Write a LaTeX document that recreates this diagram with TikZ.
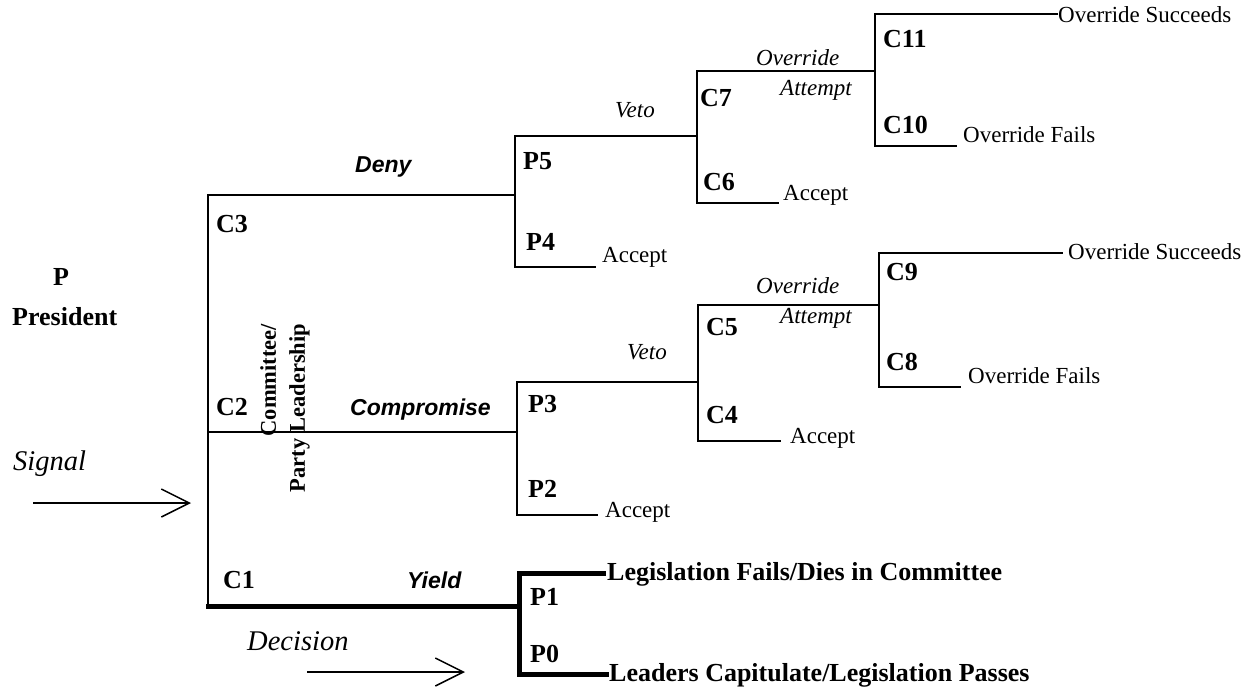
\documentclass[tikz,border=0pt]{standalone}
\usepackage{fontspec}
\setmainfont{Liberation Serif}
\setsansfont{Liberation Sans}
\usetikzlibrary{arrows.meta}
\begin{document}
\begin{tikzpicture}[x=1pt,y=-1pt,
  br/.style={line width=1.7pt, line cap=rect},
  thk/.style={line width=5pt, line cap=rect},
  lbl/.style={font=\fontsize{26}{30}\selectfont\bfseries, anchor=base west, inner sep=0pt},
  itl/.style={font=\fontsize{23}{27}\selectfont\itshape, anchor=base west, inner sep=0pt},
  bigitl/.style={font=\fontsize{28.5}{32}\selectfont\itshape, anchor=base west, inner sep=0pt},
  act/.style={font=\fontsize{23}{27}\selectfont\sffamily\bfseries\itshape, anchor=base west, inner sep=0pt},
  txt/.style={font=\fontsize{23}{27}\selectfont, anchor=base west, inner sep=0pt},
  outc/.style={font=\fontsize{26}{30}\selectfont\bfseries, anchor=base west, inner sep=0pt},
  sig/.style={line width=1.5pt, -{Straight Barb[length=28pt,width=28pt,line width=1.5pt]}}
]
\useasboundingbox (0,0) rectangle (1256,688);

% coordinates of the tree
\coordinate (t3) at (208,195);
\coordinate (t2) at (208,432);
\coordinate (t1) at (208,606);
% Deny subtree
\coordinate (j5) at (515,195);
\coordinate (p5) at (515,136);
\coordinate (p4) at (515,267);
\coordinate (p4e) at (595,267);
\coordinate (j7) at (697,136);
\coordinate (c7) at (697,71);
\coordinate (c6) at (697,203);
\coordinate (c6e) at (778,203);
\coordinate (j11) at (875,71);
\coordinate (c11) at (875,14);
\coordinate (c10) at (875,146);
\coordinate (c11e) at (1057,14);
\coordinate (c10e) at (956,146);
% Compromise subtree
\coordinate (j3) at (517,432);
\coordinate (p3) at (517,382);
\coordinate (p2) at (517,515);
\coordinate (p2e) at (597,515);
\coordinate (j5b) at (698,382);
\coordinate (c5) at (698,305);
\coordinate (c4) at (698,441);
\coordinate (c4e) at (780,441);
\coordinate (j9) at (879,305);
\coordinate (c9) at (879,253);
\coordinate (c8) at (879,387);
\coordinate (c9e) at (1062,253);
\coordinate (c8e) at (960,387);
% Yield subtree
\coordinate (j1) at (519,606);
\coordinate (p1) at (519,573);
\coordinate (p0) at (519,674);
\coordinate (p1e) at (603,573);
\coordinate (p0e) at (606,674);
% arrows
\coordinate (sigA) at (33,503);
\coordinate (sigB) at (191,503);
\coordinate (decA) at (307,672);
\coordinate (decB) at (465,672);

% lines
\draw[br] (t3) -- (t1);
\draw[br] (t3) -- (j5);
\draw[br] (t2) -- (j3);
\draw[br] (p4e) -- (p4) -- (p5) -- (j7);
\draw[br] (c6e) -- (c6) -- (c7) -- (j11);
\draw[br] (c10e) -- (c10) -- (c11) -- (c11e);
\draw[br] (p2e) -- (p2) -- (p3) -- (j5b);
\draw[br] (c4e) -- (c4) -- (c5) -- (j9);
\draw[br] (c8e) -- (c8) -- (c9) -- (c9e);
\draw[thk] (t1) -- (j1);
\draw[thk, line join=miter] (p1e) -- (p1) -- (p0) -- (p0e);
\draw[sig] (sigA) -- (sigB);
\draw[sig] (decA) -- (decB);

% player labels
\node[lbl] (lC11) at (883,47) {C11};
\node[lbl] (lC10) at (883,133) {C10};
\node[lbl] (lC7) at (700,106) {C7};
\node[lbl] (lC6) at (703,190) {C6};
\node[lbl] (lP5) at (523,169) {P5};
\node[lbl] (lP4) at (526,250) {P4};
\node[lbl] (lC3) at (216,232) {C3};
\node[lbl] (lC2) at (216,415) {C2};
\node[lbl] (lC1) at (223,588) {C1};
\node[lbl] (lP3) at (528,412) {P3};
\node[lbl] (lP2) at (528,497) {P2};
\node[lbl] (lC5) at (706,335) {C5};
\node[lbl] (lC4) at (706,423) {C4};
\node[lbl] (lC9) at (886,280) {C9};
\node[lbl] (lC8) at (886,370) {C8};
\node[lbl] (lP1) at (530,605) {P1};
\node[lbl] (lP0) at (530,662) {P0};
\node[lbl] (lP) at (53,285) {P};
\node[lbl] (lPres) at (12,325) {President};

% rotated label
\node[font=\fontsize{22.5}{29}\selectfont\bfseries, rotate=90, align=right, inner sep=0pt]
  (party) at (285,408) {Committee/\\Party Leadership};

% move labels
\node[itl] (veto1) at (615,117) {Veto};
\node[itl] (veto2) at (627,359) {Veto};
\node[itl] (ovr1) at (756,65) {Override};
\node[itl] (att1) at (780,95) {Attempt};
\node[itl] (ovr2) at (756,293) {Override};
\node[itl] (att2) at (780,323) {Attempt};
\node[bigitl] (signal) at (13,470) {Signal};
\node[bigitl] (decision) at (247,650) {Decision};
\node[act] (deny) at (355,172) {Deny};
\node[act] (comp) at (350,415) {Compromise};
\node[act] (yield) at (407,588) {Yield};

% outcomes
\node[txt] (acc1) at (602,262) {Accept};
\node[txt] (acc2) at (783,200) {Accept};
\node[txt] (acc3) at (605,517) {Accept};
\node[txt] (acc4) at (790,443) {Accept};
\node[txt] (os1) at (1058,22) {Override Succeeds};
\node[txt] (os2) at (1068,259) {Override Succeeds};
\node[txt] (of1) at (963,142) {Override Fails};
\node[txt] (of2) at (968,383) {Override Fails};
\node[outc] (fail) at (607,580) {Legislation Fails/Dies in Committee};
\node[outc] (pass) at (609,681) {Leaders Capitulate/Legislation Passes};
\end{tikzpicture}
\end{document}
